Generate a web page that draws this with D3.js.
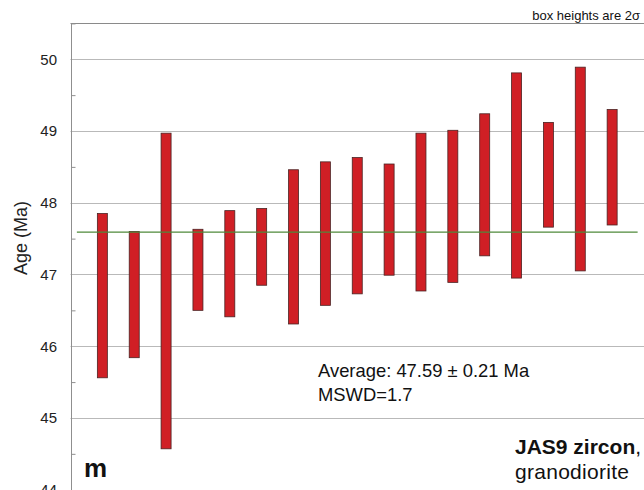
<!DOCTYPE html>
<html>
<head>
<meta charset="utf-8">
<script src="https://cdn.jsdelivr.net/npm/d3@7/dist/d3.min.js"></script>
<style>
  html, body { margin: 0; padding: 0; background: #fff; }
  svg { display: block; font-family: "Liberation Sans", Arial, sans-serif; }
</style>
</head>
<body>
<svg id="chart" width="644" height="490"></svg>
<script>
// ---- data ----
const grains = d3.range(1, 18);
const upper = [47.85, 47.60, 48.97, 47.63, 47.89, 47.92, 48.46, 48.57, 48.63, 48.54, 48.97, 49.01, 49.24, 49.81, 49.12, 49.89, 49.30];
const lower = [45.56, 45.84, 44.57, 46.50, 46.41, 46.85, 46.31, 46.57, 46.73, 46.99, 46.77, 46.89, 47.26, 46.95, 47.66, 47.05, 47.69];
const meanAge = 47.59;
const yTicks = [44, 45, 46, 47, 48, 49, 50];
const yMinorTicks = [44.5, 45.5, 46.5, 47.5, 48.5, 49.5, 50.5];

const svg = d3.select("#chart");
const W = 644, H = 490;

const x = d3.scaleLinear().domain([0, 18]).range([70.5, 644]);
const y = d3.scaleLinear().domain([44, 50.5]).range([489.7, 23.4]);

// gridlines
svg.append("g").selectAll("line").data(yTicks).join("line")
  .attr("x1", x(0)).attr("x2", W)
  .attr("y1", d => Math.round(y(d)) + 0.5).attr("y2", d => Math.round(y(d)) + 0.5)
  .attr("stroke", "#b9b9b9").attr("stroke-width", 1);

// top border
svg.append("line")
  .attr("x1", x(0)).attr("x2", W)
  .attr("y1", Math.round(y(50.5)) + 0.5).attr("y2", Math.round(y(50.5)) + 0.5)
  .attr("stroke", "#8a8a8a").attr("stroke-width", 1);

// left axis
const yAxis = d3.axisRight(y).tickValues(yMinorTicks).tickSize(4).tickFormat("");
const ag = svg.append("g").attr("transform", `translate(${Math.round(x(0)) + 0.5},0)`).call(yAxis);
ag.select(".domain").attr("stroke", "#8f8f8f").attr("d", `M0,${y(50.5)}V${H}`);
ag.selectAll(".tick line").attr("stroke", "#8f8f8f");

// tick labels
svg.append("g").selectAll("text").data(yTicks).join("text")
  .attr("x", 57).attr("y", d => y(d))
  .attr("dy", "0.36em")
  .attr("text-anchor", "end")
  .attr("font-size", 15)
  .attr("fill", "#222")
  .text(d => d);

// y label
svg.append("text")
  .attr("transform", `translate(27,238) rotate(-90)`)
  .attr("text-anchor", "middle")
  .attr("font-size", 18)
  .attr("fill", "#222")
  .text("Age (Ma)");

// boxes
const bw = 10;
svg.append("g").selectAll("rect").data(grains).join("rect")
  .attr("x", (d) => x(d) - bw / 2)
  .attr("width", bw)
  .attr("y", (d, i) => y(upper[i]))
  .attr("height", (d, i) => y(lower[i]) - y(upper[i]))
  .attr("fill", "#d01f25")
  .attr("stroke", "#4a2323")
  .attr("stroke-width", 0.8);

// mean line
svg.append("line")
  .attr("x1", x(0.2)).attr("x2", x(17.8))
  .attr("y1", y(meanAge)).attr("y2", y(meanAge))
  .attr("stroke", "#4f8a3a").attr("stroke-width", 1.4);

// annotations
svg.append("text").attr("x", 640).attr("y", 20).attr("text-anchor", "end")
  .attr("font-size", 13).attr("fill", "#111").text("box heights are 2σ");

svg.append("text").attr("x", 318).attr("y", 377).attr("font-size", 18.4).attr("fill", "#111")
  .text("Average: 47.59 ± 0.21 Ma");
svg.append("text").attr("x", 318).attr("y", 401).attr("font-size", 18.4).attr("fill", "#111")
  .text("MSWD=1.7");

const t1 = svg.append("text").attr("x", 515).attr("y", 454).attr("font-size", 21).attr("fill", "#111");
t1.append("tspan").attr("font-weight", "bold").text("JAS9 zircon");
t1.append("tspan").text(",");
svg.append("text").attr("x", 515).attr("y", 479).attr("font-size", 21).attr("fill", "#111")
  .attr("textLength", 114).attr("lengthAdjust", "spacing")
  .text("granodiorite");

svg.append("text").attr("x", 84).attr("y", 477).attr("font-size", 26).attr("font-weight", "bold")
  .attr("fill", "#111").text("m");
</script>
</body>
</html>
